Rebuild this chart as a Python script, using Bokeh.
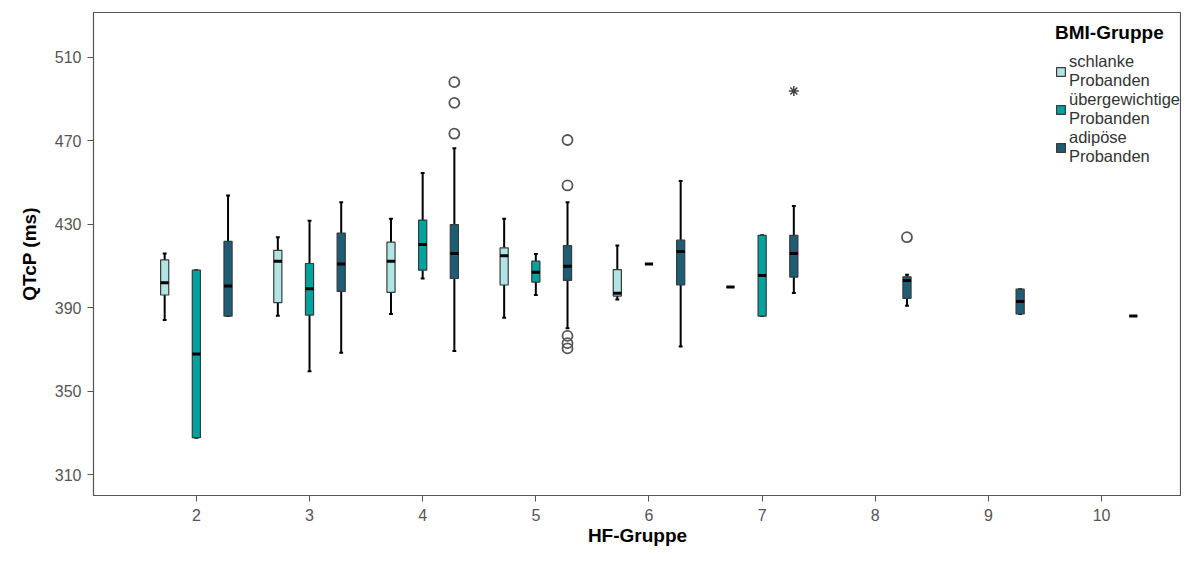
from bokeh.plotting import figure
from bokeh.models import ColumnDataSource, Range1d, FixedTicker, Legend, LegendItem
from bokeh.embed import file_html
from bokeh.resources import INLINE

hf_ticks = [2, 3, 4, 5, 6, 7, 8, 9, 10]
y_ticks = [310, 350, 390, 430, 470, 510]

group_names = ["schlanke\nProbanden", "übergewichtige\nProbanden", "adipöse\nProbanden"]

# schlanke Probanden
s_hf = [2, 3, 4, 5, 6, 7]
s_lo = [384.1, 386.2, 387.0, 385.2, 394.0, 399.9]
s_q1 = [396.1, 392.4, 397.4, 400.9, 395.6, 399.9]
s_med = [402.0, 412.3, 412.3, 414.9, 396.9, 399.9]
s_q3 = [412.9, 417.5, 421.4, 418.7, 408.3, 399.9]
s_hi = [416.0, 423.8, 432.7, 432.7, 419.8, 399.9]

# übergewichtige Probanden
u_hf = [2, 3, 4, 5, 6, 7]
u_lo = [327.7, 359.5, 404.0, 396.1, 411.0, 386.0]
u_q1 = [327.7, 386.5, 408.0, 402.3, 411.0, 386.0]
u_med = [367.8, 399.1, 420.3, 407.0, 411.0, 405.5]
u_q3 = [408.0, 411.2, 432.0, 412.3, 411.0, 424.7]
u_hi = [408.0, 431.7, 454.6, 415.8, 411.0, 424.7]

# adipöse Probanden
a_hf = [2, 3, 4, 5, 6, 7, 8, 9, 10]
a_lo = [386.0, 368.4, 369.2, 380.2, 371.4, 397.0, 391.0, 387.0, 386.0]
a_q1 = [386.0, 397.8, 404.0, 403.1, 400.9, 404.7, 394.5, 387.0, 386.0]
a_med = [400.4, 411.0, 416.0, 409.9, 416.9, 416.0, 403.1, 393.0, 386.0]
a_q3 = [421.8, 425.8, 429.8, 419.8, 422.4, 424.7, 404.8, 398.9, 386.0]
a_hi = [443.8, 440.6, 466.4, 440.6, 450.7, 438.7, 405.8, 398.9, 386.0]

# outliers (circles) and extreme values (asterisk) - adipöse
out_hf = [4, 4, 4, 5, 5, 5, 5, 5, 8]
out_val = [498.1, 488.2, 473.4, 470.4, 448.6, 376.5, 373.0, 370.5, 423.8]
ext_hf = [7]
ext_val = [493.9]

colors = ["#b1e5e5", "#00a39e", "#1d5d76"]
offsets = [-0.28, 0.0, 0.28]
half_w = 0.036
cap_w = 0.017

p = figure(width=1181, height=548, output_backend="svg", toolbar_location=None,
           x_range=Range1d(1.091, 10.706), y_range=Range1d(300, 531.5),
           min_border_left=93, min_border_right=0, min_border_top=12, min_border_bottom=51)

p.xgrid.visible = False
p.ygrid.visible = False
p.outline_line_color = "#555555"
p.outline_line_width = 1.2
p.background_fill_color = "white"

series = [
    (s_hf, s_lo, s_q1, s_med, s_q3, s_hi),
    (u_hf, u_lo, u_q1, u_med, u_q3, u_hi),
    (a_hf, a_lo, a_q1, a_med, a_q3, a_hi),
]

legend_items = []
for (hf, lo, q1, med, q3, hi), col, off, name in zip(series, colors, offsets, group_names):
    xs = [h + off for h in hf]
    src = ColumnDataSource(dict(
        x=xs, lo=lo, q1=q1, med=med, q3=q3, hi=hi,
        l=[x - half_w for x in xs], r=[x + half_w for x in xs],
        cl=[x - cap_w for x in xs], cr=[x + cap_w for x in xs],
    ))
    # whiskers
    p.segment(x0="x", y0="lo", x1="x", y1="q1", source=src, line_color="black", line_width=2)
    p.segment(x0="x", y0="q3", x1="x", y1="hi", source=src, line_color="black", line_width=2)
    p.segment(x0="cl", y0="lo", x1="cr", y1="lo", source=src, line_color="black", line_width=2)
    p.segment(x0="cl", y0="hi", x1="cr", y1="hi", source=src, line_color="black", line_width=2)
    # boxes
    r = p.quad(left="l", right="r", bottom="q1", top="q3", source=src,
               fill_color=col, line_color="#3a3a3a", line_width=1.2)
    # medians
    p.segment(x0="l", y0="med", x1="r", y1="med", source=src, line_color="black", line_width=3)
    legend_items.append(LegendItem(label=name, renderers=[r]))

osrc = ColumnDataSource(dict(x=[h + offsets[2] for h in out_hf], y=out_val))
p.scatter("x", "y", source=osrc, marker="circle", size=10, fill_alpha=0,
          line_color="#555555", line_width=1.8)
esrc = ColumnDataSource(dict(x=[h + offsets[2] for h in ext_hf], y=ext_val))
p.scatter("x", "y", source=esrc, marker="asterisk", size=10,
          line_color="#444444", line_width=1.5)

legend = Legend(items=legend_items, location=(962, 329),
                title="BMI-Gruppe", title_text_font_style="bold",
                title_text_font_size="19px", title_text_font="Liberation Sans",
                title_text_color="black", title_standoff=8,
                label_text_font_size="16.5px", label_text_font="Liberation Sans",
                label_text_color="#333333", label_text_line_height=0.95,
                glyph_width=11, glyph_height=11, spacing=0, padding=0, margin=0,
                label_standoff=3, border_line_alpha=0, background_fill_alpha=0)
p.add_layout(legend)

for ax in (p.xaxis[0], p.yaxis[0]):
    ax.axis_line_color = "#555555"
    ax.major_tick_line_color = "#555555"
    ax.major_tick_in = 0
    ax.major_tick_out = 6
    ax.minor_tick_line_color = None
    ax.major_label_text_font = "Liberation Sans"
    ax.major_label_text_font_size = "16px"
    ax.major_label_text_color = "#555555"
    ax.axis_label_text_font = "Liberation Sans"
    ax.axis_label_text_font_style = "bold"
    ax.axis_label_text_color = "black"

p.xaxis.ticker = FixedTicker(ticks=hf_ticks)
p.yaxis.ticker = FixedTicker(ticks=y_ticks)
p.xaxis.axis_label = "HF-Gruppe"
p.yaxis.axis_label = "QTcP (ms)"
p.xaxis.axis_label_text_font_size = "19px"
p.yaxis.axis_label_text_font_size = "19px"
p.xaxis.major_label_standoff = 7
p.xaxis.axis_label_standoff = 1
p.yaxis.major_label_standoff = 6
p.yaxis.axis_label_standoff = 12

open("out.html", "w").write(file_html(p, INLINE))
